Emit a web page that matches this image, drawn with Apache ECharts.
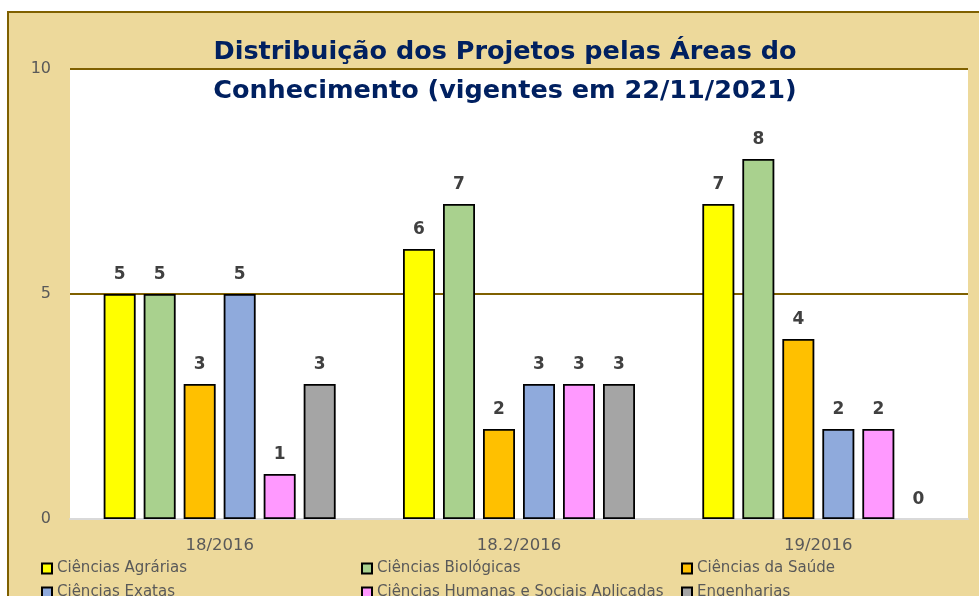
<!DOCTYPE html>
<html>
<head>
<meta charset="utf-8">
<script src="https://cdn.jsdelivr.net/npm/echarts@6/dist/echarts.min.js"></script>
<style>html,body{margin:0;padding:0;background:#fff;}#c{width:979px;height:596px;}</style>
</head>
<body>
<div id="c"></div>
<script>
const categories = ['18/2016', '18.2/2016', '19/2016'];
const seriesNames = ['Ciências Agrárias', 'Ciências Biológicas', 'Ciências da Saúde', 'Ciências Exatas', 'Ciências Humanas e Sociais Aplicadas', 'Engenharias'];
const agrarias = [5, 6, 7];
const biologicas = [5, 7, 8];
const saude = [3, 2, 4];
const exatas = [5, 3, 2];
const humanas = [1, 3, 2];
const engenharias = [3, 3, 0];
const yTicks = [0, 5, 10];
const colors = ['#FFFF00', '#A9D18E', '#FFC000', '#8FAADC', '#FF99FF', '#A5A5A5'];
const titleLines = ['Distribuição dos Projetos pelas Áreas do', 'Conhecimento (vigentes em 22/11/2021)'];

const allValues = [agrarias, biologicas, saude, exatas, humanas, engenharias];
const chart = echarts.init(document.getElementById('c'), null, {renderer: 'canvas'});

const series = seriesNames.map((name, i) => ({
  name: name,
  type: 'bar',
  barWidth: 32,
  barGap: '25%',
  data: allValues[i].map(v => v === 0 ? {value: v, itemStyle: {borderWidth: 0}} : v),
  itemStyle: {color: colors[i], borderColor: '#000', borderWidth: 1.8},
  label: {show: true, position: 'top', distance: 11, fontFamily: 'DejaVu Sans', fontWeight: 'bold', fontSize: 17, color: '#404040'},
  z: 3
}));

const legendCommon = {
  orient: 'vertical', top: 556, height: 100, itemWidth: 10, itemHeight: 10, itemGap: 9,
  icon: 'rect',
  textStyle: {fontFamily: 'DejaVu Sans', fontSize: 15, color: '#595959'}
};

chart.setOption({
  animation: false,
  backgroundColor: '#ffffff',
  graphic: [{
    type: 'rect', z: -10, silent: true,
    shape: {x: 8, y: 12, width: 1000, height: 700},
    style: {fill: '#EDD99B', stroke: '#7F6000', lineWidth: 2}
  }],
  title: {
    text: titleLines.join('\n'),
    left: 500, textAlign: 'center', top: 28,
    textStyle: {fontFamily: 'DejaVu Sans', fontWeight: 'bold', fontSize: 25.5, lineHeight: 39, color: '#002060'}
  },
  legend: [
    Object.assign({}, legendCommon, {left: 36, data: [seriesNames[0], seriesNames[3]]}),
    Object.assign({}, legendCommon, {left: 356, data: [seriesNames[1], seriesNames[4]]}),
    Object.assign({}, legendCommon, {left: 676, data: [seriesNames[2], seriesNames[5]]})
  ],
  grid: {left: 70, right: 11, top: 69, bottom: 77, show: true, backgroundColor: '#ffffff', borderWidth: 0, containLabel: false},
  xAxis: {
    type: 'category', data: categories,
    axisLine: {show: true, lineStyle: {color: '#D9D9D9', width: 2}},
    axisTick: {show: false},
    axisLabel: {margin: 18, fontFamily: 'DejaVu Sans', fontSize: 16.5, color: '#595959'}
  },
  yAxis: {
    type: 'value', min: yTicks[0], max: yTicks[yTicks.length - 1], interval: yTicks[1] - yTicks[0],
    axisLine: {show: false}, axisTick: {show: false},
    axisLabel: {margin: 19, fontFamily: 'DejaVu Sans', fontSize: 16, color: '#595959'},
    splitLine: {show: true, lineStyle: {color: '#7F6000', width: 2}}
  },
  series: series
});
</script>
</body>
</html>
